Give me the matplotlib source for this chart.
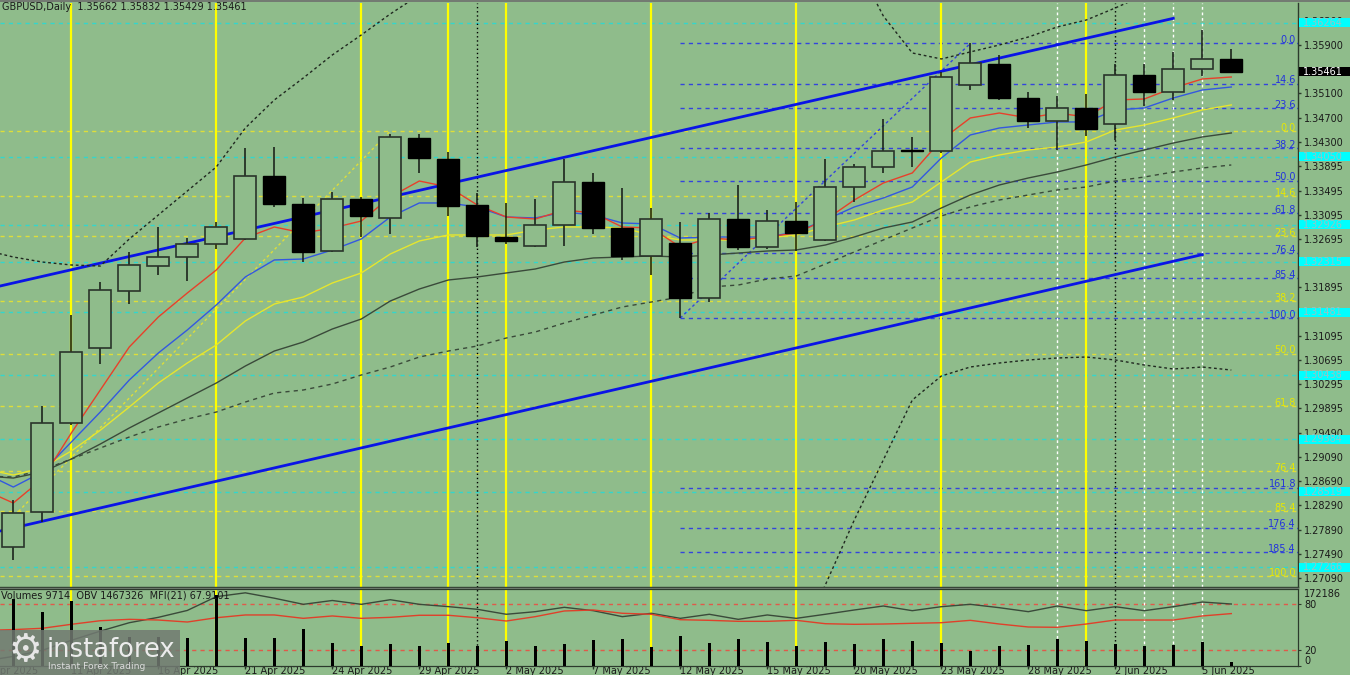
import numpy as np
import matplotlib
matplotlib.use("Agg")
import matplotlib.pyplot as plt
from matplotlib.patches import Rectangle
import matplotlib.transforms as mtransforms

# ---------------- data ----------------
header_text = "GBPUSD,Daily  1.35662 1.35832 1.35429 1.35461"
sub_header = "Volumes 9714  OBV 1467326  MFI(21) 67.9101"

dates = ["9 Apr 2025", "10 Apr 2025", "11 Apr 2025", "14 Apr 2025", "15 Apr 2025",
         "16 Apr 2025", "17 Apr 2025", "18 Apr 2025", "21 Apr 2025", "22 Apr 2025",
         "23 Apr 2025", "24 Apr 2025", "25 Apr 2025", "28 Apr 2025", "29 Apr 2025",
         "30 Apr 2025", "1 May 2025", "2 May 2025", "5 May 2025", "6 May 2025",
         "7 May 2025", "8 May 2025", "9 May 2025", "12 May 2025", "13 May 2025",
         "14 May 2025", "15 May 2025", "16 May 2025", "19 May 2025", "20 May 2025",
         "21 May 2025", "22 May 2025", "23 May 2025", "26 May 2025", "27 May 2025",
         "28 May 2025", "29 May 2025", "30 May 2025", "2 Jun 2025", "3 Jun 2025",
         "4 Jun 2025", "5 Jun 2025", "6 Jun 2025"]
prev_date_label = "8 Apr 2025"
date_label_every = 3

opens = [1.27603, 1.28181, 1.29652, 1.30892, 1.31834, 1.32247, 1.32396, 1.32611, 1.32694, 1.33735,
         1.33272, 1.32495, 1.33355, 1.33041, 1.34363, 1.34016, 1.33256, 1.32732, 1.32578, 1.32920,
         1.33641, 1.32870, 1.32413, 1.32623, 1.31714, 1.33024, 1.32556, 1.32996, 1.32677, 1.33558,
         1.33879, 1.34160, 1.34148, 1.35239, 1.35586, 1.35024, 1.34644, 1.34859, 1.34594, 1.35404,
         1.35123, 1.35504, 1.35662]
highs = [1.28380, 1.29933, 1.31437, 1.31983, 1.32478, 1.32892, 1.32710, 1.32975, 1.34198, 1.34214,
         1.33371, 1.33470, 1.33388, 1.34429, 1.34429, 1.34132, 1.33449, 1.33284, 1.33350, 1.34011,
         1.33780, 1.33541, 1.33201, 1.32970, 1.33128, 1.33586, 1.33173, 1.33300, 1.34016, 1.33928,
         1.34672, 1.34385, 1.35454, 1.35925, 1.35735, 1.35123, 1.35057, 1.35090, 1.35586, 1.35586,
         1.35785, 1.36148, 1.35832]
lows = [1.27388, 1.28016, 1.29619, 1.30628, 1.31619, 1.32099, 1.31999, 1.32528, 1.32677, 1.33223,
        1.32313, 1.32479, 1.32727, 1.32776, 1.33785, 1.33074, 1.32566, 1.32611, 1.32560, 1.32583,
        1.32776, 1.32347, 1.32099, 1.31388, 1.31657, 1.32512, 1.32523, 1.32495, 1.32660, 1.33310,
        1.33789, 1.33889, 1.34110, 1.35156, 1.34991, 1.34528, 1.34165, 1.34396, 1.34330, 1.34892,
        1.34991, 1.35388, 1.35429]
closes = [1.28165, 1.29652, 1.30826, 1.31851, 1.32264, 1.32396, 1.32611, 1.32892, 1.33735, 1.33272,
          1.32479, 1.33355, 1.33074, 1.34380, 1.34032, 1.33239, 1.32743, 1.32666, 1.32920, 1.33641,
          1.32870, 1.32413, 1.33019, 1.31714, 1.33024, 1.32566, 1.32996, 1.32788, 1.33558, 1.33879,
          1.34148, 1.34148, 1.35366, 1.35603, 1.35024, 1.34644, 1.34859, 1.34512, 1.35404, 1.35123,
          1.35504, 1.35669, 1.35461]
volumes = [158000, 127100, 153200, 91500, 67800, 67800, 65500, 167400, 65500, 65500,
           86800, 53600, 46500, 51200, 46500, 53600, 46500, 58300, 46500, 51200,
           60700, 63100, 44100, 70200, 53600, 63100, 56000, 46500, 56000, 51200,
           63100, 58300, 53600, 34600, 46500, 48900, 63100, 58300, 51200, 46500,
           48900, 56000, 9714]
volume_axis_label = 172186

# indicator lines, bar index -1 .. 42
ma_red = [1.28545, 1.28330, 1.28727, 1.29487, 1.30198, 1.30909, 1.31404, 1.31801, 1.32181, 1.32710,
          1.32892, 1.32793, 1.32875, 1.32991, 1.33388, 1.33652, 1.33553, 1.33256, 1.33057, 1.33024,
          1.33173, 1.33123, 1.32892, 1.32875, 1.32561, 1.32710, 1.32677, 1.32727, 1.32793, 1.33008,
          1.33338, 1.33619, 1.33785, 1.34330, 1.34694, 1.34776, 1.34694, 1.34776, 1.34710, 1.34991,
          1.35008, 1.35190, 1.35338, 1.35371]
ma_blue = [1.28826, 1.28594, 1.28842, 1.29338, 1.29834, 1.30363, 1.30809, 1.31190, 1.31603, 1.32066,
           1.32347, 1.32363, 1.32512, 1.32694, 1.33057, 1.33289, 1.33289, 1.33223, 1.33057, 1.33041,
           1.33140, 1.33090, 1.32958, 1.32942, 1.32710, 1.32727, 1.32727, 1.32727, 1.32809, 1.33008,
           1.33223, 1.33371, 1.33553, 1.34032, 1.34413, 1.34528, 1.34578, 1.34628, 1.34628, 1.34826,
           1.34859, 1.35024, 1.35156, 1.35206]
ma_yellow = [1.28892, 1.28793, 1.28909, 1.29190, 1.29533, 1.29917, 1.30313, 1.30644, 1.30942, 1.31338,
             1.31619, 1.31735, 1.31966, 1.32132, 1.32446, 1.32661, 1.32760, 1.32760, 1.32760, 1.32842,
             1.32892, 1.32892, 1.32875, 1.32760, 1.32677, 1.32677, 1.32677, 1.32710, 1.32760, 1.32892,
             1.33008, 1.33173, 1.33305, 1.33636, 1.33966, 1.34082, 1.34165, 1.34214, 1.34297, 1.34495,
             1.34578, 1.34694, 1.34826, 1.34909]
ma_grey = [1.28776, 1.28743, 1.28842, 1.29057, 1.29305, 1.29570, 1.29818, 1.30066, 1.30313, 1.30594,
           1.30842, 1.30991, 1.31206, 1.31371, 1.31669, 1.31867, 1.32016, 1.32066, 1.32132, 1.32198,
           1.32313, 1.32380, 1.32396, 1.32413, 1.32396, 1.32429, 1.32462, 1.32495, 1.32512, 1.32594,
           1.32727, 1.32875, 1.32975, 1.33206, 1.33421, 1.33586, 1.33702, 1.33801, 1.33917, 1.34049,
           1.34165, 1.34280, 1.34380, 1.34446]
ma_grey_dashed = [1.28776, 1.28760, 1.28875, 1.29057, 1.29239, 1.29421, 1.29586, 1.29718, 1.29834, 1.29999,
                  1.30148, 1.30198, 1.30297, 1.30446, 1.30578, 1.30743, 1.30842, 1.30925, 1.31057, 1.31157,
                  1.31305, 1.31437, 1.31570, 1.31652, 1.31735, 1.31900, 1.31933, 1.32032, 1.32082, 1.32280,
                  1.32479, 1.32677, 1.32875, 1.33074, 1.33223, 1.33338, 1.33421, 1.33504, 1.33553, 1.33652,
                  1.33718, 1.33801, 1.33867, 1.33917]
band_upper = [1.32512, 1.32396, 1.32313, 1.32264, 1.32247, 1.32694, 1.33090, 1.33487, 1.33884, 1.34528,
              1.34991, 1.35355, 1.35735, 1.36066, 1.36413, 1.36727, None, None, None, None,
              None, None, None, None, None, None, None, None, None, None,
              1.37305, 1.36380, 1.35768, 1.35669, 1.35785, 1.35900, 1.36032, 1.36198, 1.36313, 1.36512,
              1.36727, None, None, None]
band_lower = [None, None, None, None, None, None, None, None, None, None,
              None, None, None, None, None, None, None, None, None, None,
              None, None, None, None, None, None, None, None, 1.25900, 1.26975,
              1.28049, 1.29041, 1.30032, 1.30429, 1.30578, 1.30644, 1.30694, 1.30727, 1.30743, 1.30694,
              1.30611, 1.30545, 1.30578, 1.30528]
mfi = [46.0, 47.0, 48.7, 53.9, 58.6, 60.4, 59.5, 56.9, 62.5, 66.1,
       66.1, 61.7, 64.8, 61.7, 63.0, 65.7, 65.7, 62.5, 58.2, 63.9,
       71.3, 72.6, 68.3, 67.0, 59.9, 59.1, 57.8, 57.8, 59.1, 54.7,
       53.9, 54.3, 55.2, 56.0, 59.1, 54.3, 50.4, 50.0, 54.3, 59.5,
       59.5, 59.5, 64.8, 67.9]
obv_scaled = [6, 12, 20, 33, 45, 56, 63, 72, 90, 95,
              88, 80, 85, 80, 86, 80, 77, 73.5, 67, 70.4,
              76.1, 71.7, 63.9, 68.3, 61.7, 67.0, 60.4, 66.1, 61.7, 67.0,
              72.6, 77.8, 71.7, 76.9, 80.0, 75.6, 70.4, 77.8, 71.7, 76.9,
              71.7, 76.9, 83.0, 80.4]
mfi_levels = [80, 20]

# trend channel (bar index, price)
channel_upper = [(-1, 1.31857), (40, 1.36340)]
channel_lower = [(-1, 1.27808), (41, 1.32436)]

# Fibonacci retracements
fib_yellow_low = (-2, 1.27123)
fib_yellow_high = (13, 1.34479)
fib_yellow_levels = [0.0, 14.6, 23.6, 38.2, 50.0, 61.8, 76.4, 85.4, 100.0]
fib_blue_low = (23, 1.31388)
fib_blue_high = (33, 1.35925)
fib_blue_levels = [0.0, 14.6, 23.6, 38.2, 50.0, 61.8, 76.4, 85.4, 100.0, 161.8, 176.4, 185.4]

# horizontal cyan levels
cyan_levels = [1.36264, 1.34050, 1.32926, 1.32315, 1.31481, 1.30438, 1.29384, 1.28519, 1.27266]
last_price = 1.35461

# vertical markers (bar index)
vlines_yellow = [2, 7, 12, 15, 17, 22, 27, 32, 37]
vlines_black = [16, 38]
vlines_white = [36, 39, 40, 41]

price_ticks = [1.36300, 1.35900, 1.35100, 1.34700, 1.34300, 1.33895, 1.33495, 1.33095, 1.32695,
               1.31895, 1.31095, 1.30695, 1.30295, 1.29895, 1.29490, 1.29090, 1.28690, 1.28290,
               1.27890, 1.27490, 1.27090]

# ---------------- style ----------------
BG = "#8fbc8b"
TXT = "#1a1a1a"
AXC = "#2c3a2c"
YEL = "#ffff00"
YFIB = "#dede3a"
BFIB = "#3344dd"
CYL = "#33d6cc"
W, H = 1350, 675

plt.rcParams["font.family"] = ["DejaVu Sans"]

def fx(px):
    return px / W

def fy(py):
    return 1 - py / H

fig = plt.figure(figsize=(13.5, 6.75), dpi=100, facecolor=BG)
ax = fig.add_axes([0, fy(587), fx(1298), (587 - 3) / H], facecolor=BG)
axs = fig.add_axes([0, fy(665.6), fx(1298), (665.6 - 589) / H], facecolor=BG)

XMIN, XMAX = -0.4586, 44.3
YMIN, YMAX = 1.26942, 1.36594
ax.set_xlim(XMIN, XMAX)
ax.set_ylim(YMIN, YMAX)
axs.set_xlim(XMIN, XMAX)
axs.set_ylim(0, 100)

idx = np.arange(len(opens))
lidx = np.arange(-1, len(opens))

# horizontal level lines
for p in cyan_levels:
    ax.axhline(p, color=CYL, lw=1, ls=(0, (3, 3)), zorder=1)

tr_lab = mtransforms.blended_transform_factory(ax.transAxes, ax.transData)
yf_range = fib_yellow_high[1] - fib_yellow_low[1]
for r in fib_yellow_levels:
    p = fib_yellow_high[1] - r / 100 * yf_range
    ax.axhline(p, color=YFIB, lw=1, ls=(0, (3, 3)), zorder=1)
    ax.text(1296 / 1298, p + 0.00006, f"{r:.1f}", transform=tr_lab, color="#e8e800",
            fontsize=7, ha="right", va="baseline", zorder=6)
bf_range = fib_blue_high[1] - fib_blue_low[1]
for r in fib_blue_levels:
    p = fib_blue_high[1] - r / 100 * bf_range
    ax.hlines(p, fib_blue_low[0], XMAX, color=BFIB, lw=1, ls=(0, (3, 3)), zorder=1)
    ax.text(1296 / 1298, p + 0.00006, f"{r:.1f}", transform=tr_lab, color="#2233dd",
            fontsize=7, ha="right", va="baseline", zorder=6)
ax.plot([fib_yellow_low[0], fib_yellow_high[0]], [fib_yellow_low[1], fib_yellow_high[1]],
        color=YFIB, lw=1, ls=(0, (2, 2)), zorder=2)
ax.plot([fib_blue_low[0], fib_blue_high[0]], [fib_blue_low[1], fib_blue_high[1]],
        color=BFIB, lw=1, ls=(0, (2, 2)), zorder=2)

# vertical lines
for a in (ax, axs):
    for v in vlines_yellow:
        a.axvline(v, color=YEL, lw=1.6, zorder=1.5)
    for v in vlines_black:
        a.axvline(v, color="black", lw=1, ls=(0, (1, 2)), zorder=1.5)
    for v in vlines_white:
        a.axvline(v, color="white", lw=1, ls=(0, (2, 2)), zorder=1.5)

# channel
ax.plot([q[0] for q in channel_upper], [q[1] for q in channel_upper], color="#0a14e6", lw=2, zorder=2)
ax.plot([q[0] for q in channel_lower], [q[1] for q in channel_lower], color="#0a14e6", lw=2, zorder=2)

# moving averages & bands
f = lambda s: np.array([np.nan if v is None else v for v in s], dtype=float)
ax.plot(lidx, f(band_upper), color="#202820", lw=1, ls=(0, (2, 2)), zorder=2)
ax.plot(lidx, f(band_lower), color="#202820", lw=1, ls=(0, (2, 2)), zorder=2)
ax.plot(lidx, f(ma_grey_dashed), color="#3a4a3a", lw=1, ls=(0, (3, 3)), zorder=2)
ax.plot(lidx, f(ma_grey), color="#3a4a3a", lw=1, zorder=2)
ax.plot(lidx, f(ma_yellow), color="#e6e62e", lw=1, zorder=2.1)
ax.plot(lidx, f(ma_blue), color="#3358e0", lw=1, zorder=2.2)
ax.plot(lidx, f(ma_red), color="#e8402a", lw=1, zorder=2.3)

# candles
o, h, l, c = map(np.array, (opens, highs, lows, closes))
bull = c >= o
ax.vlines(idx, l, h, color="#1c241c", lw=1.2, zorder=4)
lo = np.minimum(o, c)
bh = np.maximum(np.abs(c - o), 0.00004)
ax.bar(idx[bull], bh[bull], bottom=lo[bull], width=0.76, facecolor=BG,
       edgecolor="#2a342a", lw=1.2, zorder=5)
ax.bar(idx[~bull], bh[~bull], bottom=lo[~bull], width=0.76, facecolor="black",
       edgecolor="black", lw=1.0, zorder=5)

# axes styling main
for s in ("left", "top"):
    ax.spines[s].set_visible(False)
for s in ("right", "bottom"):
    ax.spines[s].set_color(AXC)
    ax.spines[s].set_linewidth(1)
ax.set_xticks([])
ax.yaxis.tick_right()
ax.set_yticks(price_ticks)
ax.set_yticklabels([f"{t:.5f}" for t in price_ticks])
ax.tick_params(axis="y", length=2, width=1, pad=2.5, labelsize=7, labelcolor=TXT, colors=AXC)
for t in ax.get_yticklabels():
    t.set_color(TXT)

# price boxes
bh_px = 9 / 6050
for p in cyan_levels:
    ax.add_patch(Rectangle((1.0008, p - bh_px / 2), 52 / 1298, bh_px, transform=tr_lab,
                           facecolor="#00ffff", edgecolor="none", clip_on=False, zorder=7))
    ax.text(1.0 + 5 / 1298, p, f"{p:.5f}", transform=tr_lab, fontsize=7, color="#96c4c4",
            va="center", ha="left", clip_on=False, zorder=8)
ax.add_patch(Rectangle((1.0008, last_price - bh_px / 2), 52 / 1298, bh_px, transform=tr_lab,
                       facecolor="black", edgecolor="none", clip_on=False, zorder=7))
ax.text(1.0 + 5 / 1298, last_price, f"{last_price:.5f}", transform=tr_lab, fontsize=7,
        color="white", va="center", ha="left", clip_on=False, zorder=8)

# ---------------- sub panel ----------------
axv = axs.twinx()
axv.set_xlim(XMIN, XMAX)
axv.set_ylim(0, volume_axis_label * 76.6 / 72.6)
axv.bar(idx, volumes, width=0.1, color="black", zorder=3)
for lv in mfi_levels:
    axs.axhline(lv, color="#e05a4a", lw=1, ls=(0, (3, 3)), zorder=1)
axs.plot(lidx, obv_scaled, color="#3a4a3a", lw=1, zorder=2)
axs.plot(lidx, mfi, color="#e0402a", lw=1, zorder=2)
axs.set_zorder(1)
axv.set_zorder(2)
axv.patch.set_visible(False)

for a in (axs, axv):
    a.spines["left"].set_visible(False)
    for s in ("right", "bottom", "top"):
        a.spines[s].set_color(AXC)
axs.yaxis.tick_right()
axs.set_yticks([0, 20, 80])
axs.set_yticklabels(["0", "20", "80"])
axs.tick_params(axis="y", length=2, pad=2.5, labelsize=7, colors=AXC, labelcolor=TXT)
axs.get_yticklabels()[0].set_va("bottom")
axv.set_yticks([volume_axis_label])
axv.set_yticklabels([str(volume_axis_label)])
axv.tick_params(axis="y", length=0, pad=4.5, labelsize=7, colors=AXC, labelcolor=TXT)

tick_pos = list(range(2, len(dates), date_label_every))
axs.set_xticks(tick_pos)
axs.set_xticklabels([])
axs.tick_params(axis="x", length=2, width=1, colors=AXC)
axv.tick_params(axis="x", length=0)
trx = mtransforms.blended_transform_factory(axs.transData, axs.transAxes)
ylab = -(673.7 - 665.6) / 76.6
for tp in tick_pos:
    axs.text(tp, ylab, dates[tp], transform=trx, fontsize=7, color=TXT, ha="left",
             va="baseline", clip_on=False)
axs.text(-1, ylab, prev_date_label, transform=trx, fontsize=7, color=TXT, ha="left",
         va="baseline", clip_on=False)

fig.text(fx(1), fy(595), sub_header, fontsize=7, color=TXT, ha="left", va="center", zorder=6)

# header
fig.text(fx(2), fy(7), header_text, fontsize=7, color=TXT, ha="left", va="center")
fig.add_artist(plt.Line2D([0, 1], [fy(0.5), fy(0.5)], color="#6e6e6e", lw=1.2,
                          transform=fig.transFigure))
fig.add_artist(plt.Line2D([0, fx(1298)], [fy(588), fy(588)], color="#6e7a6e", lw=1,
                          transform=fig.transFigure))

# watermark logo
fig.add_artist(Rectangle((0, 0), fx(180), 45 / H, transform=fig.transFigure,
                         facecolor="#727a72", alpha=0.85, edgecolor="none", zorder=20))
fig.text(fx(25), fy(651), "\u2699", fontsize=27, color="#e6e6e6", ha="center", va="center",
         zorder=21)
fig.text(fx(47), fy(657), "instaforex", fontsize=18.5, color="#ececec", ha="left",
         va="baseline", zorder=21)
fig.text(fx(48), fy(669), "Instant Forex Trading", fontsize=6.7, color="#dcdcdc",
         ha="left", va="baseline", zorder=21)

fig.savefig("out.png", dpi=100, facecolor=BG)
